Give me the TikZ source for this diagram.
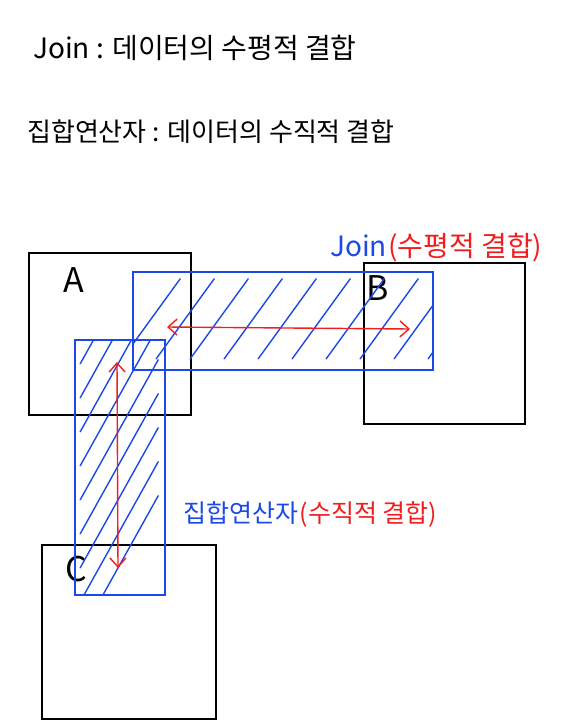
\documentclass[tikz,border=0pt]{standalone}
\usepackage{fontspec}
\setmainfont{Noto Sans CJK KR}
\usetikzlibrary{positioning,arrows.meta,calc}
\definecolor{penblue}{RGB}{28,72,232}
\definecolor{penred}{RGB}{240,30,30}

\begin{document}
\begin{tikzpicture}[
  x=1pt, y=-1pt,
  table/.style={draw, line width=1.2pt, minimum width=#1, minimum height=#1, inner sep=0pt},
  band/.style={draw=penblue, line width=1.6pt, inner sep=0pt},
  hatch/.style={penblue, line width=1.4pt, line cap=round},
  tag/.style={font=\fontsize{#1}{30}\selectfont, inner sep=0pt},
  tag/.default=26,
  note/.style={font=\fontsize{#1}{30}\selectfont, inner sep=0pt, anchor=base west},
  both/.style={penred, line width=1.4pt, {Straight Barb[length=9pt,width=16pt]}-{Straight Barb[length=9pt,width=16pt]}}
]
\useasboundingbox (0,0) rectangle (571,726);

% headings
\node[note=28] (head1) at (33,58) {Join : 데이터의 수평적 결합};
\node[note=26] (head2) at (27,141) {집합연산자 : 데이터의 수직적 결합};

% tables
\node[table=162pt] (A) at (110,334) {};
\node[table=161pt] (B) at (444.5,343.5) {};
\node[table=174pt] (C) at (129,632) {};
\node[tag=34] (labA) at (74,280) {A};
\node[tag=34] (labB) at (378,288) {B};
\node[tag=34] (labC) at (76,569) {C};

% bands
\node[band, minimum width=300pt, minimum height=98pt] (hband) at (283,321) {};
\node[band, minimum width=90pt, minimum height=255pt] (vband) at (120,467.5) {};

% hatching
\begin{scope}
  \clip (hband.south west) rectangle (hband.north east);
  \foreach \i in {0,...,10}
    \draw[hatch] ($(hband.south west)+(\i*34-10,-12)$) -- ++(58,-80);
\end{scope}
\begin{scope}
  \clip (vband.south west) rectangle (vband.north east);
  \foreach \i in {0,...,9}
    \draw[hatch] ($(vband.south west)+(6,-\i*34+40)$) -- ++(78,-140);
\end{scope}

% arrows
\coordinate (hl) at (167,327);
\coordinate (hr) at (410,329);
\coordinate (vt) at (117,362);
\coordinate (vb) at (118,568);
\draw[both] (hl) -- (hr);
\draw[both] (vt) -- (vb);

% band labels
\node[tag=28, anchor=base west, text=penblue] (joinlab) at (330,256) {Join};
\node[tag=28, text=penred, right=1pt of joinlab.base east, anchor=base west] (joinred) {(수평적 결합)};
\node[tag=25, anchor=base west, text=penblue] (setlab) at (183,522) {집합연산자};
\node[tag=25, text=penred, right=1pt of setlab.base east, anchor=base west] (setred) {(수직적 결합)};
\end{tikzpicture}
\end{document}
